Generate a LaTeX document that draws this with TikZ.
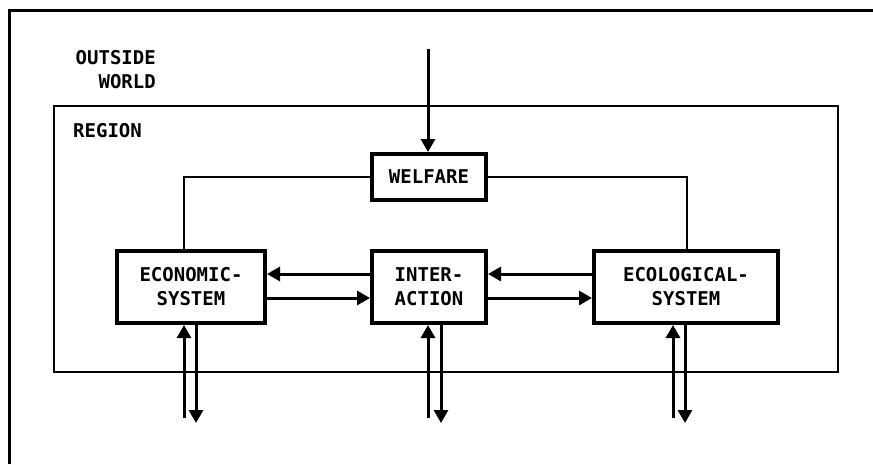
\documentclass[tikz,border=0pt]{standalone}
\usepackage{fontspec}
\setmonofont{DejaVu Sans Mono}
\usetikzlibrary{arrows.meta}

\tikzset{
  plot/.style={font=\ttfamily\bfseries\fontsize{19}{24}\selectfont, inner sep=0pt},
  box/.style={plot, draw, line width=4pt, align=center},
  arr/.style={line width=3pt, -{Triangle[width=14pt,length=13pt]}}
}

\begin{document}
\begin{tikzpicture}[x=1pt,y=-1pt]
\useasboundingbox (0,0) rectangle (873,464);

% outside world
\draw[line width=3pt] (9,464) -- (9,10) -- (873,10);
\node[plot, align=right, anchor=north east] (ow) at (156,50) {OUTSIDE\\WORLD};

% region
\draw[line width=2.5pt] (54,106) rectangle (838,372);
\node[plot, anchor=north west] (rg) at (73,123) {REGION};

\node[box, minimum width=114pt, minimum height=46pt] (welf) at (429,177) {WELFARE};

\node[box, minimum width=148pt, minimum height=72pt] (econ) at (191,287) {ECONOMIC-\\SYSTEM};
\node[box, minimum width=114pt, minimum height=72pt] (inter) at (429,287) {INTER-\\ACTION};
\node[box, minimum width=184pt, minimum height=72pt] (ecol) at (686,287) {ECOLOGICAL-\\SYSTEM};

% into welfare
\coordinate (win) at (428,49);
\draw[arr] (win) -- (win |- welf.north);

%welfare - - systems
\draw[line width=2.5pt] (welf.west) -| ([xshift=-7pt]econ.north);
\draw[line width=2.5pt] (welf.east) -| ([xshift=1pt]ecol.north);

% between boxes
\draw[arr] ([yshift=13pt]inter.west) -- ([yshift=13pt]econ.east);
\draw[arr] ([yshift=-11pt]econ.east) -- ([yshift=-11pt]inter.west);
\draw[arr] ([yshift=13pt]ecol.west) -- ([yshift=13pt]inter.east);
\draw[arr] ([yshift=-11pt]inter.east) -- ([yshift=-11pt]ecol.west);

% to and from outside
\coordinate (econin) at (184,418);
\coordinate (econout) at (196,423);
\coordinate (interin) at (428,418);
\coordinate (interout) at (441,423);
\coordinate (ecolin) at (673,418);
\coordinate (ecolout) at (685,423);

\draw[arr] (econin) -- (econin |- econ.south);
\draw[arr] (econout |- econ.south) -- (econout);
\draw[arr] (interin) -- (interin |- inter.south);
\draw[arr] (interout |- inter.south) -- (interout);
\draw[arr] (ecolin) -- (ecolin |- ecol.south);
\draw[arr] (ecolout |- ecol.south) -- (ecolout);

\end{tikzpicture}
\end{document}
